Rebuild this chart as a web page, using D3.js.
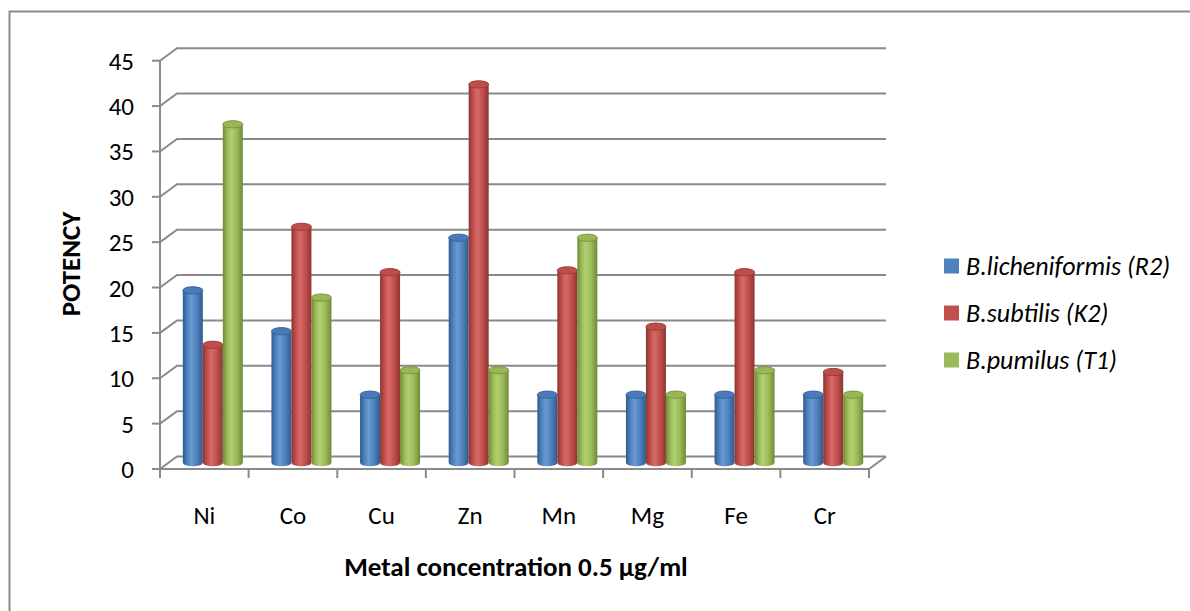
<!DOCTYPE html>
<html>
<head>
<meta charset="utf-8">
<script src="https://cdn.jsdelivr.net/npm/d3@7"></script>
<style>
  html, body { margin: 0; padding: 0; background: #fff; }
  svg { display: block; }
  text { font-family: Carlito, Lato, "Open Sans", sans-serif; fill: #000; }
</style>
</head>
<body>
<svg id="chart" width="1190" height="611"></svg>
<script>
// Metals tested and potency values for each Bacillus strain
const categories = ["Ni", "Co", "Cu", "Zn", "Mn", "Mg", "Fe", "Cr"];
const seriesNames = ["B.licheniformis (R2)", "B.subtilis (K2)", "B.pumilus (T1)"];
const licheniformis = [19, 14.5, 7.5, 24.8, 7.5, 7.5, 7.5, 7.5];
const subtilis = [13, 26, 21, 41.7, 21.2, 15, 21, 10];
const pumilus = [37.3, 18.2, 10.2, 10.2, 24.8, 7.5, 10.2, 7.5];
const yTicks = [0, 5, 10, 15, 20, 25, 30, 35, 40, 45];
const xTitle = "Metal concentration 0.5 µg/ml";
const yTitle = "POTENCY";

const seriesValues = [licheniformis, subtilis, pumilus];
const palette = [
  { base: "#4f81bd", light: "#6a9ad6", dark: "#2f5a8e", top: "#4a7bb8", rim: "#35649c" },
  { base: "#c0504d", light: "#d86a67", dark: "#8e3432", top: "#bf4e4b", rim: "#9c3c39" },
  { base: "#9bbb59", light: "#b2d072", dark: "#6e8a36", top: "#98b856", rim: "#7a9640" }
];

const svg = d3.select("#chart");
const gridColor = "#8a8a8a";

// outer chart border
svg.append("rect")
  .attr("x", 9.5).attr("y", 11.5)
  .attr("width", 1200).attr("height", 620)
  .attr("fill", "none").attr("stroke", gridColor).attr("stroke-width", 2);

// 3-D frame: front plane and depth offset of the back wall
const frontLeft = 160, frontRight = 869;
const depthX = 17, depthY = -12.5;

const y = d3.scaleLinear().domain([0, 45]).range([469, 60.7]);
const x = d3.scaleBand().domain(categories).range([frontLeft, frontRight]);
const groupWidth = 60;
const xs = d3.scaleBand().domain(seriesNames).range([0, groupWidth]);

const grid = svg.append("g")
  .attr("stroke", gridColor).attr("stroke-width", 2).attr("fill", "none");

// back-wall gridlines with their side-wall diagonals
yTicks.forEach(t => {
  const yy = y(t);
  grid.append("path")
    .attr("d", `M${frontLeft},${yy} L${frontLeft + depthX},${yy + depthY} L${frontRight + depthX},${yy + depthY}`);
});

// floor front edge and right side
grid.append("path")
  .attr("d", `M${frontLeft},${y(0)} L${frontRight},${y(0)} L${frontRight + depthX},${y(0) + depthY}`);

// value axis line and ticks
grid.append("line")
  .attr("x1", frontLeft).attr("x2", frontLeft)
  .attr("y1", y(45)).attr("y2", y(0) + 9);
yTicks.forEach(t => {
  grid.append("line")
    .attr("x1", frontLeft - 8).attr("x2", frontLeft)
    .attr("y1", y(t)).attr("y2", y(t));
});

// category tick marks along the floor front edge
const catEdges = categories.map(c => x(c)).concat([frontRight]);
catEdges.forEach(cx => {
  grid.append("line")
    .attr("x1", cx).attr("x2", cx)
    .attr("y1", y(0)).attr("y2", y(0) + 9);
});

// value tick labels
svg.append("g").selectAll("text")
  .data(yTicks).join("text")
  .attr("x", 134).attr("y", d => y(d))
  .attr("dy", "0.36em")
  .attr("text-anchor", "end")
  .attr("font-size", 25)
  .text(d => d);

// category labels
svg.append("g").selectAll("text")
  .data(categories).join("text")
  .attr("x", d => x(d) + x.bandwidth() / 2)
  .attr("y", 524)
  .attr("text-anchor", "middle")
  .attr("font-size", 25)
  .text(d => d);

// axis titles
svg.append("text")
  .attr("x", 516).attr("y", 576)
  .attr("text-anchor", "middle")
  .attr("font-size", 27).attr("font-weight", "bold")
  .text(xTitle);

svg.append("text")
  .attr("transform", "translate(80,264) rotate(-90)")
  .attr("text-anchor", "middle")
  .attr("font-size", 27).attr("font-weight", "bold")
  .text(yTitle);

// cylinder shading gradients
const defs = svg.append("defs");
palette.forEach((p, i) => {
  const g = defs.append("linearGradient")
    .attr("id", "cyl" + i).attr("x1", "0%").attr("x2", "100%").attr("y1", "0%").attr("y2", "0%");
  g.append("stop").attr("offset", "0%").attr("stop-color", p.dark);
  g.append("stop").attr("offset", "22%").attr("stop-color", p.base);
  g.append("stop").attr("offset", "42%").attr("stop-color", p.light);
  g.append("stop").attr("offset", "70%").attr("stop-color", p.base);
  g.append("stop").attr("offset", "100%").attr("stop-color", p.dark);
});

// bars sit halfway into the depth of the plot
const midX = depthX / 2, midY = depthY / 2;
const ry = 3.6;
const bars = [];
categories.forEach((c, ci) => {
  seriesNames.forEach((s, si) => {
    bars.push({ cat: c, series: s, si, value: seriesValues[si][ci] });
  });
});

const barG = svg.append("g");
const cyl = barG.selectAll("g").data(bars).join("g");

cyl.each(function(d) {
  const g = d3.select(this);
  const w = xs.bandwidth();
  const x0 = x(d.cat) + (x.bandwidth() - groupWidth) / 2 + xs(d.series) + midX;
  const rx = w / 2;
  const yTop = y(d.value) + midY;
  const yBase = y(0) + midY;
  const p = palette[d.si];
  g.append("path")
    .attr("d", `M${x0},${yTop} L${x0},${yBase} A${rx},${ry} 0 0 0 ${x0 + w},${yBase} L${x0 + w},${yTop} Z`)
    .attr("fill", `url(#cyl${d.si})`);
  g.append("ellipse")
    .attr("cx", x0 + rx).attr("cy", yTop)
    .attr("rx", rx).attr("ry", ry)
    .attr("fill", p.top).attr("stroke", p.rim).attr("stroke-width", 1);
});

// legend
const legend = svg.append("g");
seriesNames.forEach((s, i) => {
  const ly = 266 + i * 47;
  legend.append("rect")
    .attr("x", 944).attr("y", ly - 7.5)
    .attr("width", 15).attr("height", 15)
    .attr("fill", palette[i].base);
  legend.append("text")
    .attr("x", 966).attr("y", ly)
    .attr("dy", "0.36em")
    .attr("font-size", 26).attr("font-style", "italic")
    .text(s);
});
</script>
</body>
</html>
